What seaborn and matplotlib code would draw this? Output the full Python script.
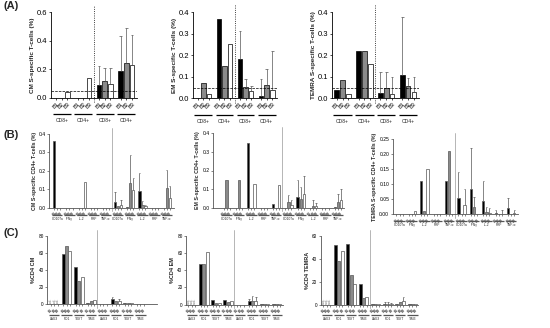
import pandas as pd
import seaborn as sns
import matplotlib.pyplot as plt
import numpy as np

# ---- data ----
series = ["B1", "B2", "B3"]

a_groups = ["CD8+", "CD4+", "CD8+", "CD4+"]
cm_a = [[0, 0, 0.09, 0.19], [0, 0, 0.115, 0.245], [0.04, 0.14, 0.095, 0.23]]
cm_a_sd = [[0, 0, 0.135, 0.24], [0, 0, 0.095, 0.245], [0, 0, 0.115, 0.21]]
em_a = [[0, 0.37, 0.185, 0.01], [0.072, 0.15, 0.053, 0.062], [0.02, 0.253, 0.035, 0.04]]
em_a_sd = [[0, 0, 0.13, 0.08], [0, 0, 0.035, 0.073], [0, 0, 0.023, 0.18]]
temra_a = [[0.04, 0.22, 0.025, 0.11], [0.086, 0.22, 0.048, 0.058], [0.018, 0.16, 0.018, 0.028]]
temra_a_sd = [[0, 0, 0.095, 0.27], [0, 0, 0.072, 0.037], [0, 0, 0.082, 0.07]]

b_groups = ["CD107a", "IFNγ", "IL-2", "PRF", "TNF-α"] * 2
cm_b = [[0.36, 0, 0, 0, 0, 0.033, 0.005, 0.09, 0, 0],
        [0, 0, 0, 0, 0, 0.008, 0.135, 0.013, 0, 0.105],
        [0, 0, 0.14, 0, 0, 0.017, 0.095, 0.008, 0, 0.055]]
cm_b_sd = [[0, 0, 0, 0, 0, 0.052, 0, 0.1, 0, 0],
           [0, 0, 0, 0, 0, 0, 0.15, 0.022, 0, 0.1],
           [0, 0, 0, 0, 0, 0.023, 0.065, 0.006, 0, 0.065]]
em_b = [[0, 0, 0.35, 0, 0.02, 0, 0.058, 0, 0, 0.005],
        [0.15, 0.15, 0, 0, 0, 0.028, 0.048, 0.01, 0, 0.032],
        [0, 0, 0.13, 0, 0.122, 0.012, 0.075, 0.01, 0, 0.04]]
em_b_sd = [[0, 0, 0, 0, 0, 0, 0.092, 0, 0, 0],
           [0, 0, 0, 0, 0, 0.042, 0.062, 0.03, 0, 0.043],
           [0, 0, 0, 0, 0, 0.028, 0.095, 0.015, 0, 0.06]]
temra_b = [[0, 0, 0.11, 0, 0.11, 0.055, 0.083, 0.045, 0.003, 0.02],
           [0, 0, 0.01, 0, 0.21, 0, 0.022, 0.008, 0, 0],
           [0, 0.01, 0.15, 0, 0, 0.03, 0, 0.005, 0, 0.005]]
temra_b_sd = [[0, 0, 0, 0, 0, 0.085, 0.137, 0.065, 0.012, 0.032],
              [0, 0, 0, 0, 0, 0, 0.036, 0.017, 0, 0],
              [0, 0, 0, 0, 0, 0.052, 0, 0.015, 0.015, 0.01]]

c_groups = ["LAG3", "PD1", "TIGIT", "TIM3"] * 2
cm_c = [[0, 59, 44, 2, 0, 6, 1.5, 0.5],
        [0, 68, 27, 4, 0, 4, 1, 0.5],
        [0, 62, 32, 5, 0, 4, 1, 0.5]]
cm_c_sd = [[0, 0, 0, 0, 0, 3, 0, 0], [0, 0, 0, 0, 0, 0, 0, 0], [0, 0, 0, 0, 0, 2, 0, 0]]
em_c = [[0, 47, 6, 5, 0, 4.5, 0.5, 0.5],
        [0, 47, 2, 3, 0, 4, 0.5, 0.5],
        [0, 61, 2, 4, 0, 4, 0.5, 0.5]]
em_c_sd = [[0, 0, 0, 0, 0, 2.5, 0, 0], [0, 0, 0, 0, 0, 6, 0, 0], [0, 0, 0, 0, 0, 5, 0, 0]]
temra_c = [[0, 52, 53, 18, 0.3, 0.5, 1, 1],
           [0, 38, 26, 6, 0.3, 0.5, 2, 1],
           [0, 47, 18, 7, 0.3, 0.5, 3, 1]]
temra_c_sd = [[0, 0, 0, 0, 0, 1.5, 0, 0], [0, 0, 0, 0, 0, 1.5, 0, 0], [0, 0, 0, 0, 0, 1, 3.5, 0]]

sns.set_style("ticks")
plt.rcParams['font.family'] = ['Liberation Sans', 'DejaVu Sans']

W, H = 550, 328
fig = plt.figure(figsize=(W / 100, H / 100), dpi=100)


def draw_panel(box, vals, sds, groups, ylim, yticks, yfmt, ylabel, xlim,
               fs, lc='black', width=0.8, gap=0.2, thresh=False, nd=False,
               div_style=':', div_col='black', label_y=-0.24, line_y=-0.19):
    l, t, r, b = box
    ax = fig.add_axes([l / W, 1 - b / H, (r - l) / W, (b - t) / H])
    n = len(groups)
    keys = ["g%d" % i for i in range(n)]
    df = pd.DataFrame({
        'pos': np.tile(keys, 3),
        'ser': np.repeat(series, n),
        'val': np.concatenate(vals),
    })
    sns.barplot(data=df, x='pos', y='val', hue='ser', order=keys, hue_order=series,
                palette=['black', '#8a8a8a', 'white'], edgecolor=lc, linewidth=0.5,
                width=width, gap=gap, errorbar=None, legend=False, ax=ax)

    centers, labs = [], []
    for i, cont in enumerate(ax.containers):
        for j, bar in enumerate(cont):
            cx = bar.get_x() + bar.get_width() / 2
            top = bar.get_height()
            centers.append(cx)
            labs.append(series[i])
            if sds[i][j] > 0:
                ax.vlines(cx, top, top + sds[i][j], color='#555555', lw=0.5)
                ax.hlines(top + sds[i][j], cx - bar.get_width() * 0.3,
                          cx + bar.get_width() * 0.3, color='#555555', lw=0.5)
    ax.set_xticks(centers)
    ax.set_xticklabels(labs, rotation=45, ha='right', rotation_mode='anchor',
                       fontsize=fs[2])
    ax.set_xlim(*xlim)
    ax.set_ylim(*ylim)
    ax.set_yticks(yticks)
    ax.set_yticklabels([yfmt % v for v in yticks], fontsize=fs[0])
    ax.set_xlabel('')
    ax.set_ylabel(ylabel, fontsize=fs[1], fontweight='bold', labelpad=1.5)
    ax.tick_params(axis='both', length=1.5, width=0.5, pad=1, colors=lc)
    ax.tick_params(axis='y', labelcolor='black')
    ax.tick_params(axis='x', labelcolor='black')
    for s in ['top', 'right']:
        ax.spines[s].set_visible(False)
    for s in ['left', 'bottom']:
        ax.spines[s].set_linewidth(0.6)
        ax.spines[s].set_color(lc)

    tr = ax.get_xaxis_transform()
    half = n // 2
    ax.plot([half - 0.5, half - 0.5], [-0.05, 1.08], ls=div_style, color=div_col,
            lw=0.6, transform=tr, clip_on=False)
    if thresh:
        ax.axhline(0.05, ls='--', color='black', lw=0.5)
    for k, g in enumerate(groups):
        ax.plot([k - 0.42, k + 0.42], [line_y, line_y], color=lc, lw=0.9,
                transform=tr, clip_on=False, solid_capstyle='butt')
        ax.text(k, label_y, g, fontsize=fs[3], ha='center', va='top',
                transform=tr)
    if nd:
        for i, cont in enumerate(ax.containers):
            bar = cont[0]
            cx = bar.get_x() + bar.get_width() / 2
            ax.text(cx, ylim[1] * 0.01, 'n.d.', rotation=90, fontsize=2.8,
                    color='#777777', ha='center', va='bottom')
    return ax


fa = (5.5, 4.6, 4.0, 3.6)
draw_panel((51, 12.3, 137, 97.7), cm_a, cm_a_sd, a_groups, (0, 0.6),
           [0, 0.2, 0.4, 0.6], '%.1f', 'CM S-specific T-cells (%)', (-0.5, 3.5),
           fa, thresh=True)
draw_panel((192.7, 12.3, 277.3, 98.3), em_a, em_a_sd, a_groups, (0, 0.4),
           [0, 0.1, 0.2, 0.3, 0.4], '%.1f', 'EM S-specific T-cells (%)', (-0.5, 3.5),
           fa, thresh=True)
draw_panel((331.7, 12.3, 419, 98.3), temra_a, temra_a_sd, a_groups, (0, 0.4),
           [0, 0.1, 0.2, 0.3, 0.4], '%.1f', 'TEMRA S-specific T-cells (%)', (-0.5, 3.5),
           fa, thresh=True)

fb = (3.6, 3.8, 2.4, 2.3)
draw_panel((49.3, 133.7, 174, 207.7), cm_b, cm_b_sd, b_groups, (0, 0.4),
           [0, 0.1, 0.2, 0.3, 0.4], '%.1f', 'CM S-specific CD4+ T-cells (%)',
           (-0.66, 9.6), fb, lc='#555555', width=0.75, gap=0.25, div_style='-',
           div_col='#aaaaaa', label_y=-0.12, line_y=-0.1)
draw_panel((213, 133.3, 344, 207.7), em_b, em_b_sd, b_groups, (0, 0.4),
           [0, 0.1, 0.2, 0.3, 0.4], '%.1f', 'EM S-specific CD4+ T-cells (%)',
           (-1.1, 9.5), fb, lc='#555555', width=0.75, gap=0.25, div_style='-',
           div_col='#aaaaaa', label_y=-0.12, line_y=-0.1)
draw_panel((392.7, 139.3, 518, 214), temra_b, temra_b_sd, b_groups, (0, 0.25),
           [0, 0.05, 0.1, 0.15, 0.2, 0.25], '%.2f', 'TEMRA S-specific CD4+ T-cells (%)',
           (-0.55, 9.55), fb, lc='#555555', width=0.75, gap=0.25, div_style='-',
           div_col='#aaaaaa', label_y=-0.12, line_y=-0.1)

fc = (3.4, 4.0, 2.4, 2.3)
draw_panel((47.3, 235.7, 156.7, 304.3), cm_c, cm_c_sd, c_groups, (0, 80),
           [0, 20, 40, 60, 80], '%d', '%CD4 CM', (-0.57, 8.33), fc,
           lc='#555555', width=0.8, gap=0.1, div_style='-', div_col='#aaaaaa',
           nd=True, label_y=-0.18, line_y=-0.15)
draw_panel((186, 235.7, 283, 304.7), em_c, em_c_sd, c_groups, (0, 80),
           [0, 20, 40, 60, 80], '%d', '%CD4 EM', (-0.47, 7.52), fc,
           lc='#555555', width=0.8, gap=0.1, div_style='-', div_col='#aaaaaa',
           nd=True, label_y=-0.18, line_y=-0.15)
draw_panel((320.7, 235.7, 418, 304.7), temra_c, temra_c_sd, c_groups, (0, 60),
           [0, 20, 40, 60], '%d', '%CD4 TEMRA', (-0.49, 7.45), fc,
           lc='#555555', width=0.8, gap=0.1, div_style='-', div_col='#aaaaaa',
           nd=True, label_y=-0.18, line_y=-0.15)

for txt, yy in [('(A)', 6), ('(B)', 135), ('(C)', 233)]:
    fig.text(3 / W, 1 - yy / H, txt, fontsize=8, fontweight='bold', va='center',
             ha='left')

fig.savefig('out.png', dpi=100)
